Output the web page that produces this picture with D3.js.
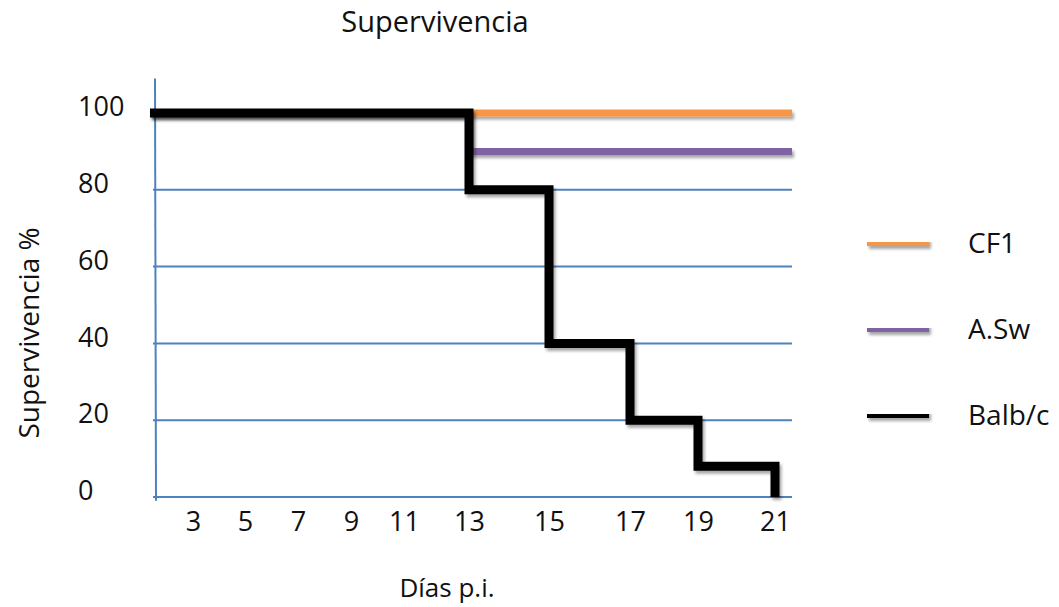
<!DOCTYPE html>
<html>
<head>
<meta charset="utf-8">
<script src="https://cdn.jsdelivr.net/npm/d3@7"></script>
<style>
  html, body { margin: 0; padding: 0; background: #fff; }
  svg text { font-family: "Open Sans", Lato, sans-serif; fill: #111; }
</style>
</head>
<body>
<svg id="chart" width="1059" height="607"></svg>
<script>
// Survival curves (% alive) by day post-infection for three mouse strains
const dayTicks = [3, 5, 7, 9, 11, 13, 15, 17, 19, 21];
const survTicks = [0, 20, 40, 60, 80, 100];

const seriesNames = ["CF1", "A.Sw", "Balb/c"];
const seriesColors = ["#f79646", "#8064a2", "#000000"];

// step curves: day where each survival level begins, and the level
const cf1Days = [1, 22];
const cf1Surv = [100, 100];
const aswDays = [1, 13, 22];
const aswSurv = [100, 90, 90];
const balbDays = [1, 13, 15, 17, 19, 21];
const balbSurv = [100, 80, 40, 20, 8, 0];

const W = 1059, H = 607;
const svg = d3.select("#chart");

// x positions follow the uneven spacing of the day axis
const x = d3.scaleLinear()
  .domain([1, 3, 5, 7, 9, 11, 13, 15, 17, 19, 21, 22])
  .range([150, 193, 245, 298, 351, 404, 469, 549, 630, 698, 775, 792]);
const y = d3.scaleLinear().domain([0, 100]).range([497, 113]);

// soft drop shadow for the curves (user-space region so flat lines keep it)
const defs = svg.append("defs");
const f = defs.append("filter").attr("id", "shadow")
  .attr("filterUnits", "userSpaceOnUse")
  .attr("x", 0).attr("y", 0).attr("width", W).attr("height", H);
f.append("feDropShadow").attr("dx", 2).attr("dy", 3).attr("stdDeviation", 1.6)
  .attr("flood-color", "#000").attr("flood-opacity", 0.35);

// horizontal gridlines
svg.append("g").selectAll("line").data(survTicks).join("line")
  .attr("x1", 153).attr("x2", 792)
  .attr("y1", d => y(d)).attr("y2", d => y(d))
  .attr("stroke", "#4f81bd").attr("stroke-width", 2);

// vertical axis line
svg.append("line")
  .attr("x1", 155).attr("x2", 156)
  .attr("y1", y(109)).attr("y2", y(-1))
  .attr("stroke", "#4f81bd").attr("stroke-width", 2);

// y tick labels
const yAxis = svg.append("g").attr("transform", "translate(78,0)")
  .call(d3.axisLeft(y).tickValues(survTicks).tickSize(0).tickPadding(0));
yAxis.select(".domain").remove();
yAxis.selectAll("text")
  .attr("text-anchor", "start")
  .attr("x", 0)
  .attr("transform", "translate(0,-6)")
  .style("font-size", "27px")
  .style("font-family", "'Open Sans', sans-serif")
  .attr("fill", "#111");

// x tick labels
const xAxis = svg.append("g").attr("transform", "translate(0,512)")
  .call(d3.axisBottom(x).tickValues(dayTicks).tickSize(0).tickPadding(0));
xAxis.select(".domain").remove();
xAxis.selectAll("text")
  .style("font-size", "27px")
  .style("font-family", "'Open Sans', sans-serif")
  .attr("fill", "#111");

// curves
const stepLine = d3.line()
  .x(d => x(d[0])).y(d => y(d[1]))
  .curve(d3.curveStepAfter);

function toPoints(days, surv) {
  return days.map((d, i) => [d, surv[i]]);
}
const series = [
  toPoints(cf1Days, cf1Surv),
  toPoints(aswDays, aswSurv),
  toPoints(balbDays, balbSurv)
];
const widths = [7, 7, 9];

svg.append("g").selectAll("path").data(series).join("path")
  .attr("d", d => stepLine(d))
  .attr("fill", "none")
  .attr("stroke", (d, i) => seriesColors[i])
  .attr("stroke-width", (d, i) => widths[i])
  .attr("stroke-linejoin", "miter")
  .attr("filter", "url(#shadow)");

// legend
const legend = svg.append("g").selectAll("g").data(seriesNames).join("g")
  .attr("transform", (d, i) => `translate(0,${242 + i * 86})`);
legend.append("line")
  .attr("x1", 867).attr("x2", 929).attr("y1", 0).attr("y2", 0)
  .attr("stroke", (d, i) => seriesColors[i])
  .attr("stroke-width", 8)
  .attr("filter", "url(#shadow)");
legend.append("text")
  .attr("x", 968).attr("y", 4)
  .attr("dominant-baseline", "middle")
  .style("font-size", "28px")
  .text(d => d);

// titles
svg.append("text")
  .attr("x", 435).attr("y", 32)
  .attr("text-anchor", "middle")
  .style("font-size", "29px")
  .text("Supervivencia");

svg.append("text")
  .attr("x", 447).attr("y", 590)
  .attr("text-anchor", "middle").attr("dominant-baseline", "middle")
  .style("font-size", "26px")
  .text("Días p.i.");

svg.append("text")
  .attr("transform", "translate(32,333) rotate(-90)")
  .attr("text-anchor", "middle").attr("dominant-baseline", "middle")
  .style("font-size", "28px")
  .text("Supervivencia %");
</script>
</body>
</html>
